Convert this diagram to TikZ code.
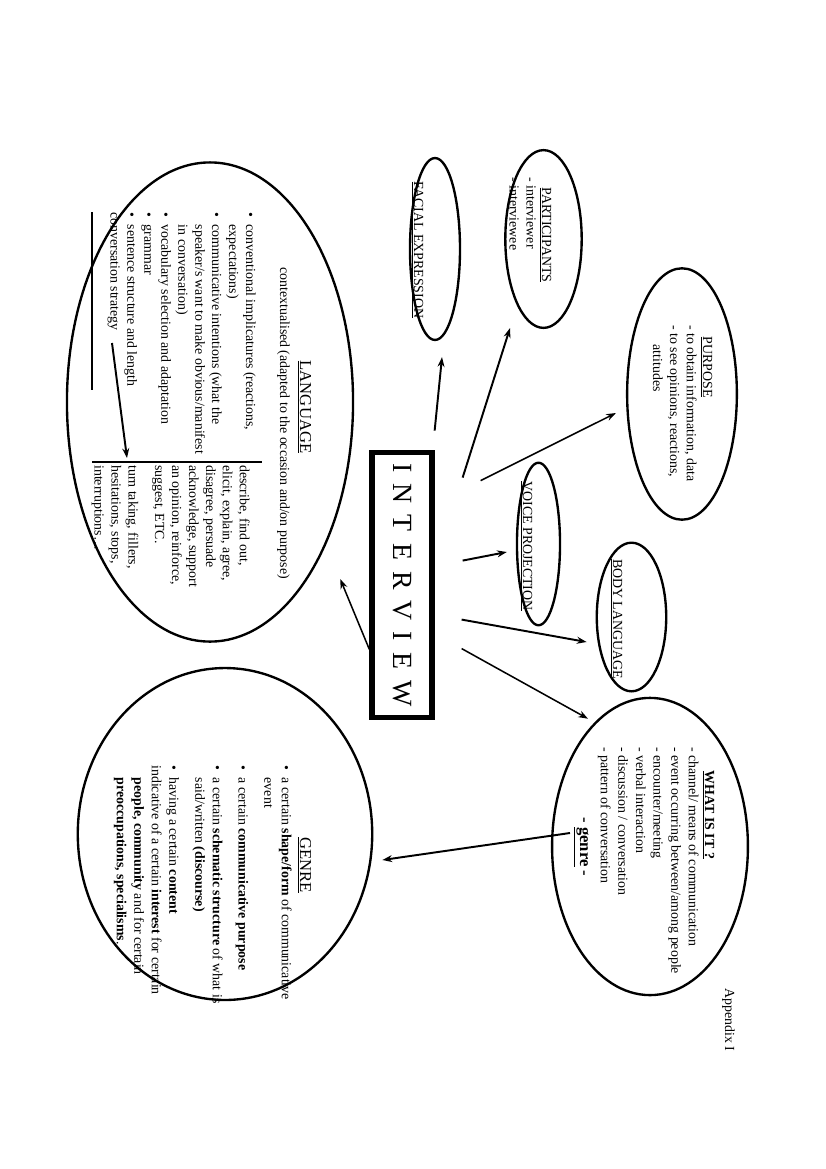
\documentclass[tikz,border=0pt]{standalone}
\usepackage{fontspec}
\setmainfont{Liberation Serif}
\usetikzlibrary{shapes.geometric,arrows.meta}
\newcommand{\bul}{\makebox[9pt][l]{\textbullet}}
\newcommand{\bulsp}{\hspace*{9pt}}
\begin{document}
\begin{tikzpicture}[x=0.72pt,y=-0.72pt,>={Stealth[length=7pt,width=5pt]},
  oval/.style={draw,ellipse,line width=1.7pt,inner sep=0pt},
  arr/.style={->,line width=1.4pt},
  txt/.style={rotate=-90,inner sep=0pt,font=\fontsize{10}{12.2}\selectfont},
  ttl/.style={txt,anchor=base},
  blk/.style={txt,anchor=north west,align=left}]
\useasboundingbox[fill=white] (0,0) rectangle (826,1169);
% ovals
\node[oval,minimum width=206pt,minimum height=345pt] (lang) at (210,402) {};
\node[oval,minimum width=212pt,minimum height=239pt] (genre) at (225,834) {};
\node[oval,minimum width=36pt,minimum height=131pt] (face) at (435,249) {};
\node[oval,minimum width=55pt,minimum height=128pt] (part) at (543.5,239) {};
\node[oval,minimum width=79pt,minimum height=181pt] (purp) at (682,394) {};
\node[oval,minimum width=31pt,minimum height=117pt] (voice) at (538.5,544) {};
\node[oval,minimum width=50pt,minimum height=107pt] (body) at (631.5,617) {};
\node[oval,minimum width=141pt,minimum height=214pt] (what) at (650,846.5) {};
% centre box
\node[draw,rotate=-90,line width=4pt,minimum width=191pt,minimum height=43pt,
  font=\fontsize{20}{24}\selectfont] (box) at (402,585)
  {\spaceskip=8pt I N T E R V I E W};
% arrows
\draw[arr] ([shift={(0,-19)}]box.north west) -- ([shift={(7,16)}]face.south);
\draw[arr] ([shift={(28,28)}]box.north west) -- ([shift={(-33.5,-1)}]part.south);
\draw[arr,line width=1.1pt] ([shift={(46,31)}]box.north west) -- ([shift={(-10,19)}]purp.west);
\draw[arr] ([shift={(28,111)}]box.north west) -- ([shift={(-9,8)}]voice.west);
\draw[arr] ([shift={(27,170)}]box.north west) -- ([shift={(-9,25)}]body.west);
\draw[arr,line width=1.1pt] ([shift={(27,199)}]box.north west) -- ([shift={(-62,22)}]what.north);
\draw[arr] ([shift={(-80,-13.5)}]what.center) -- ([shift={(9,26)}]genre.east);
\draw[arr,line width=1.1pt] ([shift={(0,-71)}]box.south east) -- ([shift={(-14,177)}]lang.east);
% language
\node[ttl,font=\fontsize{12}{14}\selectfont] (langt) at (300,407) {\underline{LANGUAGE}};
\node[txt,anchor=base west] (langc) at (280,267)
  {contextualised (adapted to the occasion and/on purpose)};
\node[blk] (langl) at (256,212) {\bul conventional implicatures (reactions,\\
  \bulsp expectations)\\
  \bul communicative intentions (what the\\
  \bulsp speaker/s want to make obvious/manifest\\
  \bulsp in conversation)\\
  \bul vocabulary selection and adaptation\\
  \bul grammar\\
  \bul sentence structure and length\\
  conversation strategy};
\node[blk] (langr) at (250,465) {describe, find out,\\
  elicit, explain, agree,\\
  disagree, persuade\\
  acknowledge, support\\
  an opinion, reinforce,\\
  suggest, ETC.\\[7pt]
  turn taking, fillers,\\
  hesitations, stops,\\
  interruptions\ldots};
\coordinate (rulea) at (92,212);
\coordinate (ruleb) at (92,390);
\coordinate (rulec) at (92,462);
\coordinate (ruled) at (262,462);
\coordinate (stra) at (112,343);
\coordinate (strb) at (127,458);
\draw[line width=0.8pt] (rulea) -- (ruleb);
\draw[line width=1.2pt] (rulec) -- (ruled);
\draw[arr] (stra) -- (strb);
% genre
\node[ttl,font=\fontsize{12}{14}\selectfont] (genret) at (300,865) {\underline{GENRE}};
\node[blk,font=\fontsize{10}{12.6}\selectfont] (genrel) at (292,765)
  {\bul a certain \textbf{shape/form} of communicative\\
  \bulsp event\\[6pt]
  \bul a certain \textbf{communicative purpose}\\[6pt]
  \bul a certain \textbf{schematic structure} of what is\\
  \bulsp said/written \textbf{(discourse)}\\[6pt]
  \bul having a certain \textbf{content}\\
  indicative of a certain \textbf{interest} for certain\\
  \bulsp\textbf{people, community} and for certain\\
  \bulsp\textbf{preoccupations, specialisms}.};
% what is it
\node[ttl] (whatt) at (705,815) {\textbf{\underline{WHAT IS IT ?}}};
\node[blk,font=\fontsize{10}{12.7}\selectfont] (whatl) at (699,747)
  {- channel/ means of communication\\
  - event occurring between/among people\\
  - encounter/meeting\\
  - verbal interaction\\
  - discussion / conversation\\
  - pattern of conversation};
\node[ttl,font=\fontsize{12}{14}\selectfont\bfseries] (whatg) at (580,847)
  {- \underline{genre} -};
% small ovals
\node[ttl] (partt) at (542,235) {\underline{PARTICIPANTS}};
\node[blk] (partl) at (536,177) {- interviewer\\- interviewee};
\node[ttl] (purpt) at (703,367) {\underline{PURPOSE}};
\node[blk] (purpl) at (697,325) {- to obtain information, data\\
  - to see opinions, reactions,\\
  \hspace*{14pt}attitudes};
\node[ttl] (facet) at (414,250) {\underline{FACIAL EXPRESSION}};
\node[ttl] (voicet) at (523,546) {\underline{VOICE PROJECTION}};
\node[ttl] (bodyt) at (613,619) {\underline{BODY LANGUAGE}};
\node[txt,anchor=base west] (appx) at (725,988) {Appendix I};
\end{tikzpicture}
\end{document}
